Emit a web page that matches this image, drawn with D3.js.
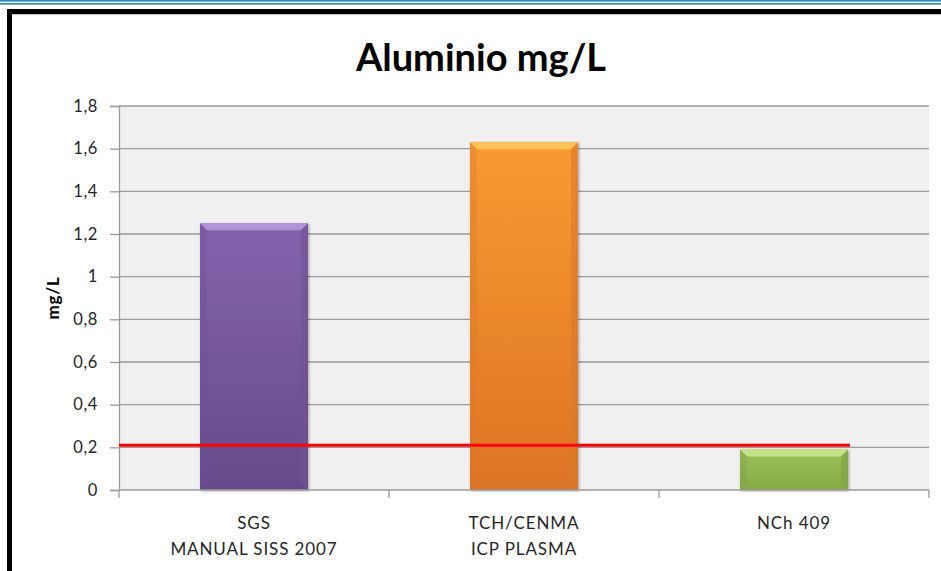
<!DOCTYPE html>
<html>
<head>
<meta charset="utf-8">
<script src="https://cdn.jsdelivr.net/npm/d3@7"></script>
<style>
  html, body { margin: 0; padding: 0; background: #ffffff; }
  svg { display: block; }
  text { font-family: Lato, "Noto Sans", "DejaVu Sans", sans-serif; }
</style>
</head>
<body>
<svg id="chart" width="941" height="571"></svg>
<script>
// Aluminio (mg/L) per method, with the NCh 409 limit drawn as a red line
const categories = [["SGS", "MANUAL SISS 2007"], ["TCH/CENMA", "ICP PLASMA"], ["NCh 409"]];
const values = [1.25, 1.63, 0.19];
const limitValue = 0.21;
const yTicks = [0, 0.2, 0.4, 0.6, 0.8, 1, 1.2, 1.4, 1.6, 1.8];
const barColors = [
  { top: "#b699dc", mid: "#8563ad", bot: "#664a8a", side: "#6e5194" },
  { top: "#ffc75e", mid: "#f99a31", bot: "#dc7425", side: "#d9792a" },
  { top: "#c9e58c", mid: "#9cc25a", bot: "#85ab45", side: "#7f9f45" }
];

const svg = d3.select("#chart");
const margin = { left: 119, right: 12, top: 106, bottom: 81 };
const W = 941, H = 571;
const x0 = margin.left, x1 = W - margin.right;
const y0 = H - margin.bottom, y1 = margin.top;

const x = d3.scaleBand().domain(d3.range(categories.length)).range([x0, x1]).paddingInner(0.6).paddingOuter(0.3);
const xb = d3.scaleBand().domain(d3.range(categories.length)).range([x0, x1]);
const y = d3.scaleLinear().domain([0, 1.8]).range([y0, y1]);

// window frame lines
svg.append("rect").attr("x", 0).attr("y", 0).attr("width", W).attr("height", 1.6).attr("fill", "#2b86cc");
svg.append("rect").attr("x", 0).attr("y", 3).attr("width", W).attr("height", 1.6).attr("fill", "#2b86cc");
svg.append("rect").attr("x", 9.5).attr("y", 11.5).attr("width", W + 20).attr("height", H + 20)
  .attr("fill", "#ffffff").attr("stroke", "#000000").attr("stroke-width", 5);
svg.append("line").attr("x1", 12).attr("x2", W).attr("y1", 14.6).attr("y2", 14.6).attr("stroke", "#bdbdbd").attr("stroke-width", 1);

// plot area
svg.append("rect").attr("x", x0).attr("y", y1).attr("width", x1 - x0).attr("height", y0 - y1).attr("fill", "#f0f0f0");

// gridlines + y ticks
const yAxis = d3.axisLeft(y).tickValues(yTicks).tickSize(9).tickPadding(12)
  .tickFormat(d => d3.format("~g")(d).replace(".", ","));
const gy = svg.append("g").attr("transform", `translate(${x0},0)`).call(yAxis);
gy.select(".domain").attr("stroke", "#9a9a9a").attr("stroke-width", 1.3);
gy.selectAll(".tick line").attr("stroke", "#9a9a9a").attr("stroke-width", 1.3);
gy.selectAll(".tick text").attr("font-size", 16.5).attr("letter-spacing", 0.6).attr("fill", "#262626").attr("font-family", "Lato, sans-serif");
svg.append("g").selectAll("line").data(yTicks.filter(d => d > 0)).join("line")
  .attr("x1", x0).attr("x2", x1).attr("y1", d => y(d)).attr("y2", d => y(d))
  .attr("stroke", "#9a9a9a").attr("stroke-width", 1.3);

// bar gradients and shadow
const defs = svg.append("defs");
barColors.forEach((c, i) => {
  const g = defs.append("linearGradient").attr("id", "bg" + i).attr("x1", 0).attr("x2", 0).attr("y1", 0).attr("y2", 1);
  g.append("stop").attr("offset", "0%").attr("stop-color", c.mid);
  g.append("stop").attr("offset", "100%").attr("stop-color", c.bot);
});
const f = defs.append("filter").attr("id", "sh").attr("x", "-10%").attr("y", "-10%").attr("width", "130%").attr("height", "130%");
f.append("feDropShadow").attr("dx", 1).attr("dy", 1).attr("stdDeviation", 1.5).attr("flood-color", "#000").attr("flood-opacity", 0.35);

const bars = svg.append("g").selectAll("g").data(values).join("g");
const bev = 7;
bars.each(function (v, i) {
  const g = d3.select(this);
  const bx = x(i), bw = x.bandwidth(), by = y(v), bh = y0 - by;
  const c = barColors[i];
  const b = Math.min(bev, bh / 3);
  g.append("rect").attr("x", bx).attr("y", by).attr("width", bw).attr("height", bh)
    .attr("fill", `url(#bg${i})`).attr("filter", "url(#sh)");
  // bevel: top highlight, darker sides and bottom
  g.append("polygon").attr("points", [[bx, by], [bx + bw, by], [bx + bw - b, by + b], [bx + b, by + b]].join(" "))
    .attr("fill", c.top).attr("opacity", 0.9);
  g.append("polygon").attr("points", [[bx, by], [bx + b, by + b], [bx + b, y0 - b], [bx, y0]].join(" "))
    .attr("fill", c.side).attr("opacity", 0.35);
  g.append("polygon").attr("points", [[bx + bw, by], [bx + bw - b, by + b], [bx + bw - b, y0 - b], [bx + bw, y0]].join(" "))
    .attr("fill", c.side).attr("opacity", 0.6);
  g.append("polygon").attr("points", [[bx, y0], [bx + b, y0 - b], [bx + bw - b, y0 - b], [bx + bw, y0]].join(" "))
    .attr("fill", c.bot).attr("opacity", 0.5);
});

// x axis
const gx = svg.append("g");
gx.append("line").attr("x1", x0).attr("x2", x1).attr("y1", y0).attr("y2", y0).attr("stroke", "#9a9a9a").attr("stroke-width", 1.3);
gx.selectAll("line.t").data(d3.range(categories.length + 1)).join("line").attr("class", "t")
  .attr("x1", i => i < categories.length ? xb(i) : x1).attr("x2", i => i < categories.length ? xb(i) : x1)
  .attr("y1", y0).attr("y2", y0 + 8).attr("stroke", "#9a9a9a").attr("stroke-width", 1.3);
const lbl = gx.selectAll("text").data(categories).join("text")
  .attr("x", (d, i) => xb(i) + xb.bandwidth() / 2).attr("y", 529)
  .attr("text-anchor", "middle").attr("font-size", 17).attr("letter-spacing", 0.9).attr("fill", "#262626");
lbl.each(function (d) {
  d3.select(this).selectAll("tspan").data(d).join("tspan")
    .attr("x", d3.select(this).attr("x")).attr("dy", (t, k) => k === 0 ? 0 : 26).text(t => t);
});

// limit line
svg.append("line").attr("x1", x0).attr("x2", x(categories.length - 1) + x.bandwidth() + 2)
  .attr("y1", y(limitValue)).attr("y2", y(limitValue)).attr("stroke", "#ff0000").attr("stroke-width", 3);

// titles
svg.append("text").attr("x", 481).attr("y", 71).attr("text-anchor", "middle")
  .attr("font-size", 38).attr("font-weight", "bold").attr("fill", "#000").text("Aluminio mg/L");
svg.append("text").attr("transform", "translate(59,298) rotate(-90)").attr("text-anchor", "middle")
  .attr("font-size", 17).attr("letter-spacing", 0.8).attr("font-weight", "bold").attr("fill", "#000").text("mg/L");
</script>
</body>
</html>
